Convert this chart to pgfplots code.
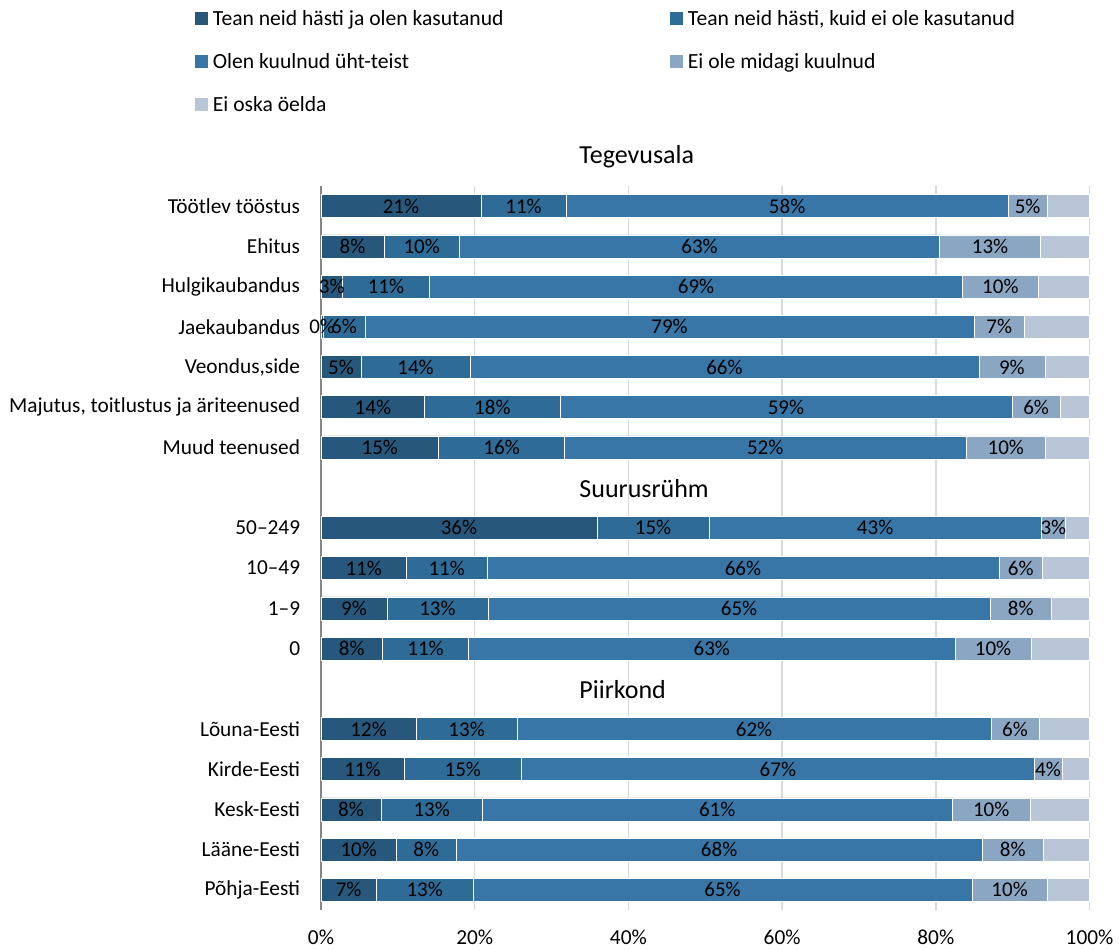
\documentclass[border=0pt]{standalone}
\usepackage{pgfplots}
\pgfplotsset{compat=1.18}
\usepackage{pgfplotstable}
\usepackage{fontspec}
\setmainfont{Carlito}
\definecolor{cA}{HTML}{27587C}
\definecolor{cB}{HTML}{2E6B97}
\definecolor{cC}{HTML}{3776A6}
\definecolor{cD}{HTML}{8BA6C2}
\definecolor{cE}{HTML}{B8C6D7}
\definecolor{gridc}{HTML}{D9D9D9}
\definecolor{axc}{HTML}{868686}
\pgfplotstableread{
y a b c d e la lb lc ld
17 20.8 11.1 57.5 5.1 5.5 21 11 58 5
16 8.2 9.8 62.5 13.1 6.4 8 10 63 13
15 2.8 11.3 69.4 9.8 6.7 3 11 69 10
14 0.3 5.4 79.3 6.5 8.5 0 6 79 7
13 5.2 14.2 66.2 8.6 5.8 5 14 66 9
12 13.5 17.6 58.8 6.3 3.8 14 18 59 6
11 15.3 16.4 52.2 10.4 5.7 15 16 52 10
9 35.9 14.6 43.2 3.2 3.1 36 15 43 3
8 11.1 10.5 66.6 5.7 6.1 11 11 66 6
7 8.6 13.1 65.4 7.9 5.0 9 13 65 8
6 8.0 11.2 63.3 9.9 7.6 8 11 63 10
4 12.4 13.1 61.7 6.2 6.6 12 13 62 6
3 10.8 15.3 66.7 3.6 3.6 11 15 67 4
2 7.8 13.2 61.1 10.2 7.7 8 13 61 10
1 9.8 7.8 68.4 8.0 6.0 10 8 68 8
0 7.2 12.6 64.9 9.8 5.5 7 13 65 10
}\data
\begin{document}
\begin{tikzpicture}
\useasboundingbox (-240.75pt,-29.25pt) rectangle (598.5pt,682.5pt);
\begin{axis}[
  at={(0,0)}, anchor=south west,
  scale only axis, width=576.4pt, height=543pt,
  xbar stacked, bar width=17.25pt,
  xmin=0, xmax=100, ymin=-0.5, ymax=17.5,
  axis line style={draw=none},
  major tick length=0pt,
  xtick={0,20,40,60,80,100},
  xticklabels={0\%,20\%,40\%,60\%,80\%,100\%},
  xmajorgrids, major grid style={gridc, line width=1.1pt},
  ytick={0,1,2,3,4,6,7,8,9,11,12,13,14,15,16,17},
  yticklabels={Põhja-Eesti,Lääne-Eesti,Kesk-Eesti,Kirde-Eesti,Lõuna-Eesti,0,1–9,10–49,50–249,Muud teenused,{Majutus, toitlustus ja äriteenused},{Veondus,side},Jaekaubandus,Hulgikaubandus,Ehitus,Töötlev tööstus},
  ticklabel style={font=\fontsize{16}{18}\selectfont, text=black},
  yticklabel style={inner sep=0pt, xshift=-15.5pt},
  xticklabel style={inner sep=0pt, yshift=-15pt},
  clip=false,
  point meta=explicit symbolic,
  every node near coord/.append style={font=\fontsize{15.75}{18}\selectfont, text=black},
  legend columns=2,
  legend style={at={(-0.164,1.243)}, anchor=north west, draw=none, fill=none,
    inner sep=0pt, row sep=19.5pt,
    font=\fontsize{16.2}{18}\selectfont,
    nodes={inner sep=0pt},
    /tikz/every odd column/.append style={column sep=3.5pt},
    /tikz/every even column/.append style={column sep=125pt}},
  legend image code/.code={\fill[#1, draw=none] (0pt,-4.9pt) rectangle (9.75pt,4.9pt);},
  legend cell align=left,
]
\addplot[fill=cA, draw=white, line width=0.4pt, nodes near coords={\pgfplotspointmeta\%}] table[x=a, y=y, meta=la] {\data};
\addlegendentry{Tean neid hästi ja olen kasutanud}
\addplot[fill=cB, draw=white, line width=0.4pt, nodes near coords={\pgfplotspointmeta\%}] table[x=b, y=y, meta=lb] {\data};
\addlegendentry{Tean neid hästi, kuid ei ole kasutanud}
\addplot[fill=cC, draw=white, line width=0.4pt, nodes near coords={\pgfplotspointmeta\%}] table[x=c, y=y, meta=lc] {\data};
\addlegendentry{Olen kuulnud üht-teist}
\addplot[fill=cD, draw=white, line width=0.4pt, nodes near coords={\pgfplotspointmeta\%}] table[x=d, y=y, meta=ld] {\data};
\addlegendentry{Ei ole midagi kuulnud}
\addplot[fill=cE, draw=white, line width=0.4pt] table[x=e, y=y] {\data};
\addlegendentry{Ei oska öelda}
\draw[axc, line width=1.5pt] (rel axis cs:0,0) -- (rel axis cs:0,1);
\node[anchor=west, font=\fontsize{19.5}{22}\selectfont, inner sep=0pt] at (axis cs:33.6,18.22) {Tegevusala};
\node[anchor=west, font=\fontsize{19.5}{22}\selectfont, inner sep=0pt] at (axis cs:33.6,9.97) {Suurusrühm};
\node[anchor=west, font=\fontsize{19.5}{22}\selectfont, inner sep=0pt] at (axis cs:33.6,4.97) {Piirkond};
\end{axis}
\end{tikzpicture}
\end{document}
